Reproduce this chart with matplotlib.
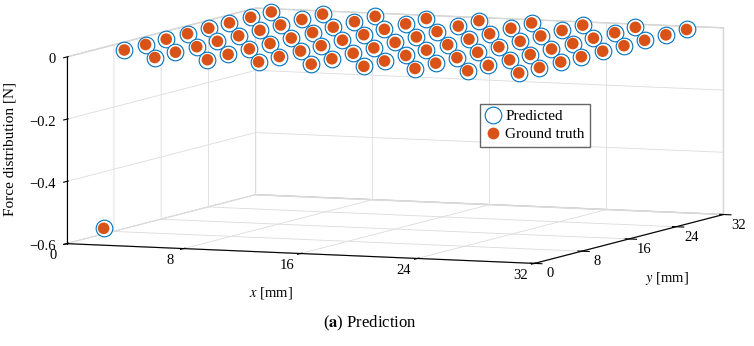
import numpy as np
import matplotlib
matplotlib.use('Agg')
import matplotlib.pyplot as plt
from mpl_toolkits.mplot3d import proj3d

#----------- Data -----------
# taxel centres along each axis [mm]
x_pos = [1.8, 5.3, 8.9, 12.4, 16.0, 19.6, 23.1, 26.7, 30.2]
y_pos = [1.8, 5.3, 8.9, 12.4, 16.0, 19.6, 23.1, 26.7, 30.2]

# force per taxel [N], rows follow y_pos, columns follow x_pos
force_gt = [
    [-0.556, 0, 0, 0, 0, 0, 0, 0, 0],
    [0, 0, 0, 0, 0, 0, 0, 0, 0],
    [0, 0, 0, 0, 0, 0, 0, 0, 0],
    [0, 0, 0, 0, 0, 0, 0, 0, 0],
    [0, 0, 0, 0, 0, 0, 0, 0, 0],
    [0, 0, 0, 0, 0, 0, 0, 0, 0],
    [0, 0, 0, 0, 0, 0, 0, 0, 0],
    [0, 0, 0, 0, 0, 0, 0, 0, 0],
    [0, 0, 0, 0, 0, 0, 0, 0, 0],
]
force_pred = [
    [-0.556, 0, 0, 0, 0, 0, 0, 0, 0],
    [0, 0, 0, 0, 0, 0, 0, 0, 0],
    [0, 0, 0, 0, 0, 0, 0, 0, 0],
    [0, 0, 0, 0, 0, 0, 0, 0, 0],
    [0, 0, 0, 0, 0, 0, 0, 0, 0],
    [0, 0, 0, 0, 0, 0, 0, 0, 0],
    [0, 0, 0, 0, 0, 0, 0, 0, 0],
    [0, 0, 0, 0, 0, 0, 0, 0, 0],
    [0, 0, 0, 0, 0, 0, 0, 0, 0],
]

xy_ticks = [0, 8, 16, 24, 32]
z_ticks = [-0.6, -0.4, -0.2, 0]
z_tick_labels = ['\u22120.6', '\u22120.4', '\u22120.2', '0']
#-----------------------------------------------------

plt.rcParams['font.family'] = 'Liberation Serif'
plt.rcParams['mathtext.fontset'] = 'stix'
plt.rcParams['font.size'] = 10.5
plt.rcParams['grid.color'] = '#dcdcdc'
plt.rcParams['grid.linewidth'] = 0.6

blue = '#0072BD'
orange = '#D95319'
W, H = 754, 346

X, Y = np.meshgrid(x_pos, y_pos)
xs = X.ravel()
ys = Y.ravel()
zp = np.array(force_pred).ravel()
zg = np.array(force_gt).ravel()

fig = plt.figure(figsize=(W / 100, H / 100), dpi=100)
ax = fig.add_axes([0.0184, 0.1455, 1.0, 0.9], projection='3d')
ax.set_proj_type('ortho')
ax.view_init(elev=6, azim=-68)
ax.set_box_aspect((1, 1, 0.372), zoom=2.3)
ax.computed_zorder = False

ax.scatter(xs, ys, zp, s=144, facecolor='white', edgecolor=blue, linewidth=0.8,
           depthshade=False, zorder=3, clip_on=False)
ax.scatter(xs, ys, zg, s=70, facecolor=orange, edgecolor='none',
           depthshade=False, zorder=4, clip_on=False)

ax.set_xlim(0, 32)
ax.set_ylim(0, 32)
ax.set_zlim(-0.6, 0)
ax.set_xticks(xy_ticks)
ax.set_yticks(xy_ticks)
ax.set_zticks(z_ticks)
ax.set_xticklabels([])
ax.set_yticklabels([])
ax.set_zticklabels([])
ax.zaxis.set_ticks_position('lower')

for axis in (ax.xaxis, ax.yaxis, ax.zaxis):
    axis.set_pane_color((1, 1, 1, 1))
    axis.pane.set_edgecolor('#c8c8c8')
    axis.line.set_color('black')
    axis.line.set_linewidth(0.8)

# tick labels placed where the 3D projection puts each tick
fig.canvas.draw()
M = ax.get_proj()


def fig_xy(x, y, z, dx=0, dy=0):
    px, py, _ = proj3d.proj_transform(x, y, z, M)
    disp = ax.transData.transform((px, py))
    fx, fy = fig.transFigure.inverted().transform(disp)
    return fx + dx / W, fy - dy / H


for t in xy_ticks:
    fig.text(*fig_xy(t, 0, -0.6, -14, 12), str(t), ha='center', va='center')
    fig.text(*fig_xy(32, t, -0.6, 15.5, 10.5), str(t), ha='center', va='center')
for t, lab in zip(z_ticks, z_tick_labels):
    fig.text(*fig_xy(0, 0, t, -11, 3), lab, ha='right', va='center')

fig.text(*fig_xy(16, 0, -0.6, -30, 39), '$x$ [mm]', ha='center', va='center')
fig.text(*fig_xy(32, 16, -0.6, 38, 40), '$y$ [mm]', ha='center', va='center')
fig.text(*fig_xy(0, 0, -0.3, -57, -1.5), 'Force distribution [N]', ha='center',
         va='center', rotation=90, fontsize=11)

leg_handles = [
    plt.Line2D([], [], ls='', marker='o', ms=12, mfc='none', mec=blue, mew=0.8),
    plt.Line2D([], [], ls='', marker='o', ms=8.5, mfc=orange, mec=orange, mew=0),
]
fig.legend(leg_handles, ['Predicted', 'Ground truth'], loc='upper left',
           bbox_to_anchor=(480 / W, 1 - 104 / H), borderaxespad=0,
           fancybox=False, edgecolor='#404040',
           handlelength=1.0, handletextpad=0.3, borderpad=0.35, labelspacing=0.3,
           fontsize=11)

fig.text(0.49, 0.065, r'($\mathbf{a}$) Prediction', ha='center', va='center', fontsize=12)

fig.savefig('out.png', dpi=100)
